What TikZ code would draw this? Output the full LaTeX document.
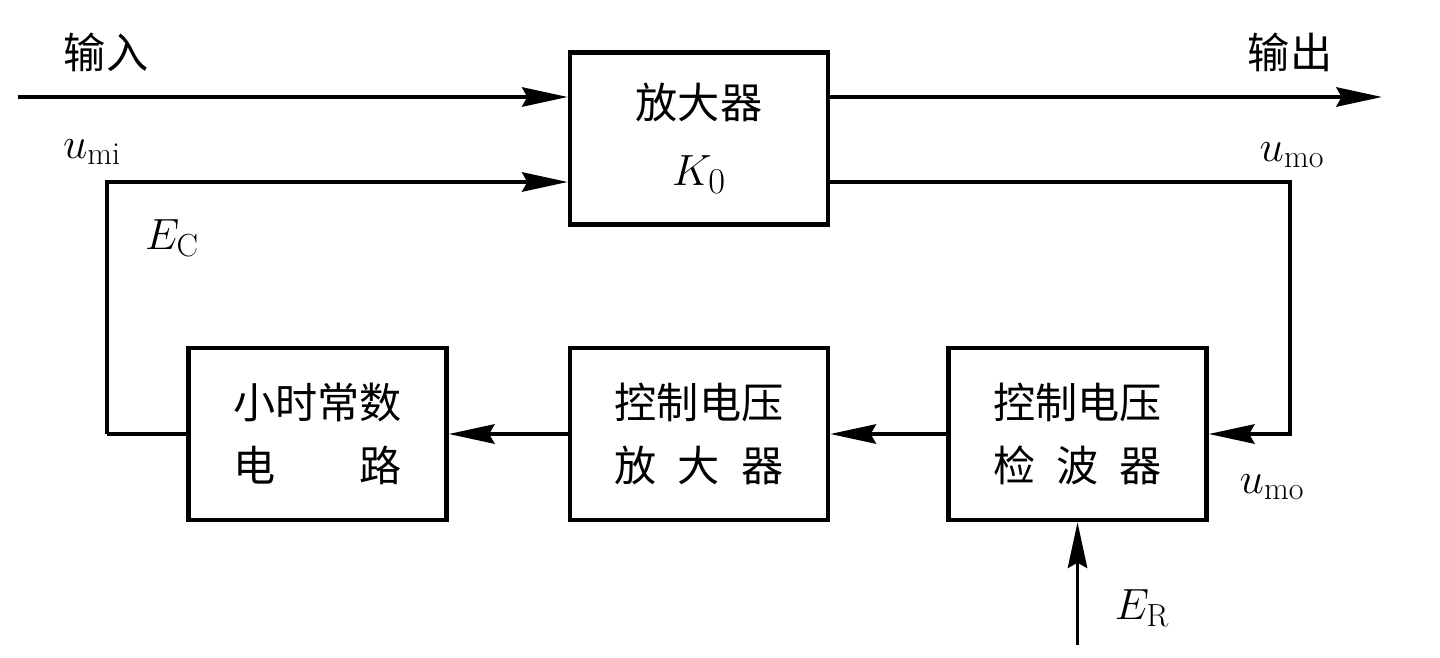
\documentclass[tikz,border=0pt]{standalone}
\usepackage{fontspec}
\newfontfamily\cjk{Noto Sans CJK SC}
\usetikzlibrary{arrows.meta}
\begin{document}
\begin{tikzpicture}[x=0.02cm,y=-0.02cm,
  line width=2.2pt,
  blk/.style={draw,line width=2.6pt,minimum width=5.16cm,minimum height=3.44cm,inner sep=0pt,align=center,font=\cjk\fontsize{24}{36}\selectfont},
  arr/.style={-{Stealth[length=26pt,width=11pt,inset=3pt]}},
  lbl/.style={font=\fontsize{26}{30}\selectfont,inner sep=0pt},
  clbl/.style={font=\cjk\fontsize{24}{28}\selectfont,inner sep=0pt}]
\useasboundingbox (0,0) rectangle (1440,658);
\node[blk] (amp) at (699,138.5) {放大器\\[2pt]\fontsize{28}{30}\selectfont$K_0$};
\node[blk] (tc) at (317.5,434) {小时常数\\电\hspace{2em}路};
\node[blk] (cva) at (699,434) {控制电压\\放\hspace{0.5em}大\hspace{0.5em}器};
\node[blk] (det) at (1077.5,434) {控制电压\\检\hspace{0.5em}波\hspace{0.5em}器};
\coordinate (in) at (18,97);
\coordinate (out) at (1382,97);
\coordinate (fbl) at (107,182);
\coordinate (fbr) at (1290,182);
\coordinate (er) at (1077.5,645);
\draw[arr] (in) -- (in -| amp.west);
\draw[arr] (amp.east |- in) -- (out);
\draw[arr] (fbl |- tc.west) -- (fbl) -- (fbl -| amp.west);
\draw (tc.west) -- (fbl |- tc.west);
\draw[arr] (amp.east |- fbr) -- (fbr) -- (fbr |- det.east) -- (det.east);
\draw[arr] (cva.west) -- (tc.east);
\draw[arr] (det.west) -- (cva.east);
\draw[arr] (er) -- (det.south);
\node[clbl] (lin) at (106,52) {输入};
\node[clbl] (lout) at (1290,52) {输出};
\node[lbl] (umi) at (92,152) {$u_{\mathrm{mi}}$};
\node[lbl] (ec) at (172,238) {$E_{\mathrm{C}}$};
\node[lbl] (umo1) at (1292,155) {$u_{\mathrm{mo}}$};
\node[lbl] (umo2) at (1272,487) {$u_{\mathrm{mo}}$};
\node[lbl] (erl) at (1142,608) {$E_{\mathrm{R}}$};
\end{tikzpicture}
\end{document}
